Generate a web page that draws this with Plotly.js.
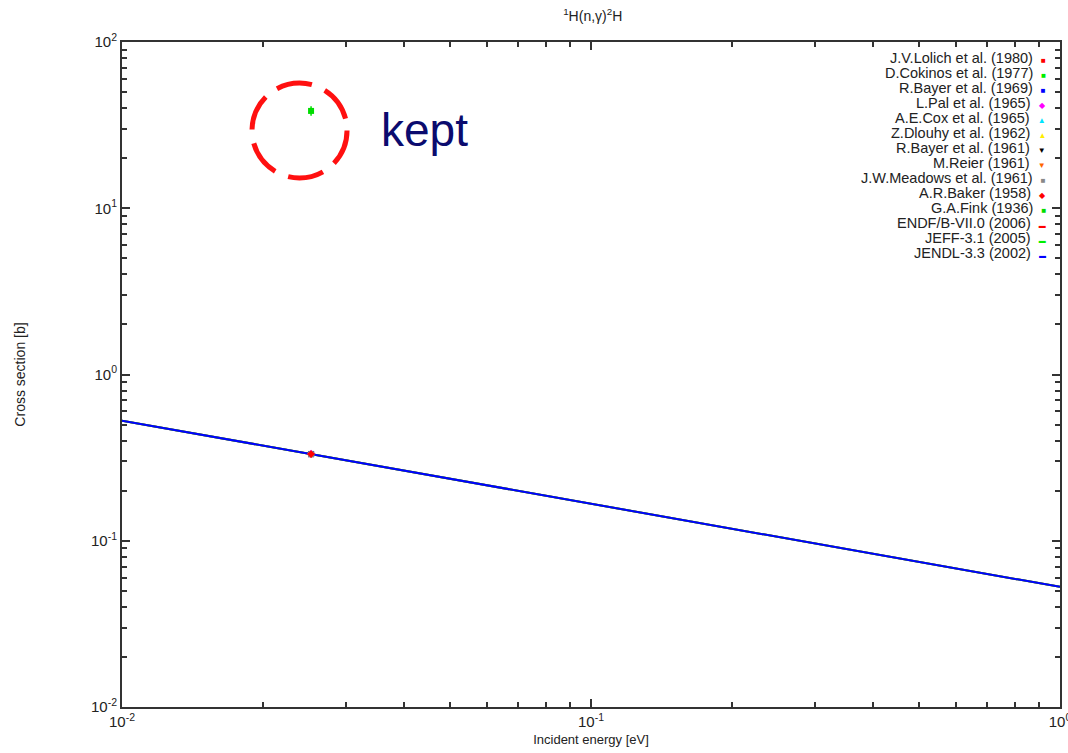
<!DOCTYPE html>
<html>
<head>
<meta charset="utf-8">
<script src="https://cdn.plot.ly/plotly-3.0.1.min.js"></script>
<style>html,body{margin:0;padding:0;background:#fff;}#chart{width:1068px;height:753px;}</style>
</head>
<body>
<div id="chart"></div>
<script>
// Experimental data (thermal point, 0.0253 eV)
const expNames = ["J.V.Lolich et al. (1980)", "D.Cokinos et al. (1977)", "R.Bayer et al. (1969)", "L.Pal et al. (1965)",
  "A.E.Cox et al. (1965)", "Z.Dlouhy et al. (1962)", "R.Bayer et al. (1961)", "M.Reier (1961)",
  "J.W.Meadows et al. (1961)", "A.R.Baker (1958)", "G.A.Fink (1936)"];
const expColors = ["#ff0000", "#00ee00", "#0000ff", "#ff00ff", "#00e5ff", "#ffee00", "#000000", "#ff6600", "#888888", "#ff0000", "#00dd00"];
const expSymbols = ["square", "square", "square", "diamond", "triangle-up", "triangle-up", "triangle-down", "triangle-down", "square", "diamond", "square"];
const expGlyphs = ["■", "■", "■", "◆", "▲", "▲", "▼", "▼", "■", "◆", "■"];
const expE = [0.0253, 0.0253, 0.0253, 0.0253, 0.0253, 0.0253, 0.0253, 0.0253, 0.0253, 0.0253, 0.0253];
const expXS = [0.3326, 0.3328, 0.332, 0.334, 0.3342, 0.332, 0.331, 0.328, 0.331, 0.332, 38.5];
const expErr = [0.002, 0.003, 0.004, 0.005, 0.004, 0.004, 0.005, 0.010, 0.005, 0.01, 2.5];

// Evaluated data (1/v capture)
const evalNames = ["ENDF/B-VII.0 (2006)", "JEFF-3.1 (2005)", "JENDL-3.3 (2002)"];
const evalColors = ["#ff0000", "#00ee00", "#0000ff"];
const evalE = [0.01, 0.02, 0.0253, 0.05, 0.1, 0.2, 0.5, 1.0];
const evalXS = [0.528, 0.373, 0.332, 0.236, 0.167, 0.118, 0.0746, 0.0528];

// Tick labels
const xTickVals = [0.01, 0.1, 1];
const xTickText = ["10<sup>-2</sup>", "10<sup>-1</sup>", "10<sup>0</sup>"];
const yTickVals = [0.01, 0.1, 1, 10, 100];
const yTickText = ["10<sup>-2</sup>", "10<sup>-1</sup>", "10<sup>0</sup>", "10<sup>1</sup>", "10<sup>2</sup>"];

function minorTicks(lo, hi) {
  const v = [];
  for (let e = lo; e < hi; e++) for (let m = 2; m <= 9; m++) v.push(m * Math.pow(10, e));
  return v;
}

const traces = [];
evalNames.forEach((n, i) => {
  traces.push({
    type: "scatter", mode: "lines", name: n, x: evalE, y: evalXS,
    line: {color: evalColors[i], width: 2}, showlegend: false
  });
});
expNames.forEach((n, i) => {
  traces.push({
    type: "scatter", mode: "markers", name: n, x: [expE[i]], y: [expXS[i]],
    marker: {color: expColors[i], symbol: expSymbols[i], size: 6},
    error_y: {type: "data", array: [expErr[i]], color: expColors[i], thickness: 1.5, width: 0},
    showlegend: false
  });
});

const FONT = "Liberation Sans, Arial, Helvetica, sans-serif";
const axisCommon = {
  type: "log", showline: true, linecolor: "#333", linewidth: 2, mirror: "ticks",
  ticks: "inside", ticklen: 8, tickwidth: 2, tickcolor: "#333", tickmode: "array",
  showgrid: false, zeroline: false, ticklabeloverflow: "allow",
  tickfont: {family: FONT, size: 15, color: "#222"}
};

// Legend drawn as right-aligned entries (text then symbol), like the original
const legendEntries = [];
expNames.forEach((n, i) => legendEntries.push({text: n, color: expColors[i], glyph: expGlyphs[i], size: 8}));
evalNames.forEach((n, i) => legendEntries.push({text: n, color: evalColors[i], glyph: "▬", size: 7}));
const legY0 = 0.9764, legStep = 0.02256;
const legendAnn = legendEntries.map((e, i) => ({
  xref: "paper", yref: "paper", x: 0.987, y: legY0 - i * legStep, xanchor: "right", yanchor: "middle",
  showarrow: false, align: "right",
  text: e.text + "  <span style=\"color:" + e.color + ";font-size:" + e.size + "px\">" + e.glyph + "</span>",
  font: {family: FONT, size: 14.5, color: "#222"}
}));

const layout = {
  width: 1068, height: 753,
  margin: {l: 122, r: 8, t: 42, b: 46},
  paper_bgcolor: "#fff", plot_bgcolor: "#fff",
  font: {family: FONT, color: "#222"},
  title: {text: "<sup>1</sup>H(n,γ)<sup>2</sup>H", x: 0.555, xanchor: "center", y: 0.985, yanchor: "top",
    font: {size: 14, color: "#222"}},
  xaxis: Object.assign({}, axisCommon, {range: [-2, 0], tickvals: xTickVals, ticktext: xTickText,
    minor: {tickmode: "array", tickvals: minorTicks(-2, 0), ticks: "inside", ticklen: 5, tickwidth: 1.5, tickcolor: "#333", showgrid: false},
    title: {text: "Incident energy [eV]", font: {size: 13, color: "#222"}, standoff: 6}}),
  yaxis: Object.assign({}, axisCommon, {range: [-2, 2], tickvals: yTickVals, ticktext: yTickText,
    minor: {tickmode: "array", tickvals: minorTicks(-2, 2), ticks: "inside", ticklen: 5, tickwidth: 1.5, tickcolor: "#333", showgrid: false},
    title: {text: "Cross section [b]", font: {size: 14, color: "#222"}, standoff: 62}}),
  showlegend: false,
  shapes: [{type: "circle", xref: "paper", yref: "paper", x0: 0.1386, x1: 0.2399, y0: 0.7955, y1: 0.9383,
    line: {color: "#ff1010", width: 5, dash: "36px,14px"}}],
  annotations: legendAnn.concat([{text: "kept", xref: "paper", yref: "paper", x: 0.274, y: 0.867, xanchor: "left", yanchor: "middle",
    showarrow: false, font: {size: 46, color: "#0b0b6e", family: FONT}}])
};

Plotly.newPlot("chart", traces, layout, {displayModeBar: false});
</script>
</body>
</html>
